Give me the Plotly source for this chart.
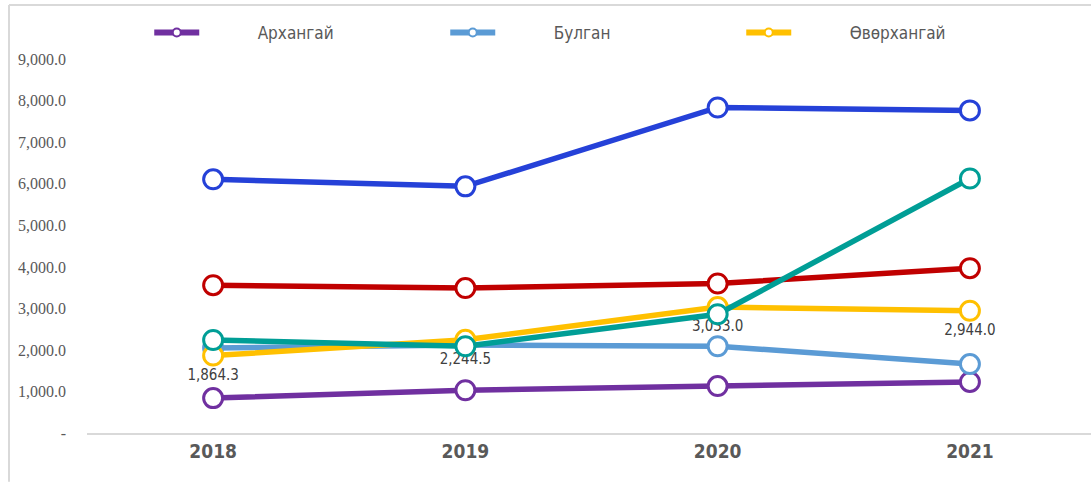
import plotly.graph_objects as go

years = ["2018", "2019", "2020", "2021"]

arkhangai = [840, 1030, 1130, 1230]
bulgan = [2050, 2120, 2090, 1660]
uvurkhangai = [1864.3, 2244.5, 3033.0, 2944.0]
series_red = [3560, 3490, 3600, 3970]
series_darkblue = [6110, 5940, 7840, 7770]
series_teal = [2240, 2090, 2860, 6130]

y_ticks = [0, 1000, 2000, 3000, 4000, 5000, 6000, 7000, 8000, 9000]
y_ticktext = ["-", "1,000.0", "2,000.0", "3,000.0", "4,000.0", "5,000.0",
              "6,000.0", "7,000.0", "8,000.0", "9,000.0"]

COND = "DejaVu Sans Condensed, Liberation Sans Narrow, Roboto, sans-serif"
PAD = "\u00a0" * 11

fig = go.Figure()

def add_series(name, values, color, legend, labels=False):
    fig.add_trace(go.Scatter(
        x=years, y=values, name=name, mode="lines+markers+text" if labels else "lines+markers",
        line=dict(color=color, width=5.5),
        marker=dict(symbol="circle", size=19, color="white", line=dict(color=color, width=3)),
        text=[f"{v:,.1f}" for v in values] if labels else None,
        textposition="bottom center",
        textfont=dict(family=COND, size=15, color="#404040"),
        showlegend=False, legendgroup=name, cliponaxis=False,
    ))
    if legend:
        fig.add_trace(go.Scatter(
            x=[None], y=[None], name=PAD + name, mode="lines+markers",
            line=dict(color=color, width=6),
            marker=dict(symbol="circle", size=8, color="white", line=dict(color=color, width=2)),
            showlegend=True, legendgroup=name,
        ))

add_series("Архангай", arkhangai, "#7030a0", True)
add_series("Булган", bulgan, "#5b9bd5", True)
add_series("Өвөрхангай", uvurkhangai, "#ffc000", True, labels=True)
add_series("s4", series_red, "#c00000", False)
add_series("s5", series_darkblue, "#2541d8", False)
add_series("s6", series_teal, "#009e96", False)

fig.update_layout(
    width=1091, height=482,
    margin=dict(l=87, r=0, t=50, b=49),
    paper_bgcolor="white", plot_bgcolor="white",
    legend=dict(orientation="h", x=0.062, y=1 - 33 / 482, xanchor="left", yanchor="middle",
                yref="container", font=dict(family=COND, size=17, color="#595959"),
                itemwidth=45, entrywidth=236, entrywidthmode="pixels",
                bgcolor="rgba(0,0,0,0)"),
    xaxis=dict(type="category", range=[-0.5, 3.48], showgrid=False,
               showline=True, linecolor="#d9d9d9", linewidth=2,
               ticks="", tickfont=dict(family=COND, size=19, color="#595959", weight="bold"),
               fixedrange=True),
    yaxis=dict(range=[0, 9200], tickvals=y_ticks, ticktext=y_ticktext, showgrid=False,
               zeroline=False, showline=False, ticks="",
               tickfont=dict(family="Liberation Serif, Times New Roman, serif", size=16, color="#595959"),
               ticklabelstandoff=20),
)

# outer frame (left and top light-grey border)
fig.add_shape(type="line", xref="paper", yref="paper",
              x0=(9 - 87) / 1004, x1=(9 - 87) / 1004, y0=(433 - 482) / 383, y1=(433 - 4) / 383,
              line=dict(color="#d9d9d9", width=2))
fig.add_shape(type="line", xref="paper", yref="paper",
              x0=(9 - 87) / 1004, x1=1.0, y0=(433 - 4) / 383, y1=(433 - 4) / 383,
              line=dict(color="#d9d9d9", width=2))

fig.write_html("out.html", config={"displayModeBar": False},
               post_script="document.body.style.margin='0';")
